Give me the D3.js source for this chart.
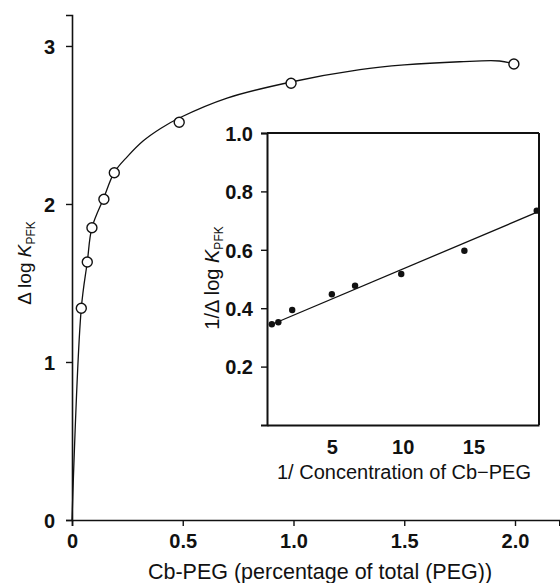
<!DOCTYPE html>
<html>
<head>
<meta charset="utf-8">
<script src="https://cdn.jsdelivr.net/npm/d3@7"></script>
<style>
  html, body { margin: 0; padding: 0; background: #fff; }
  svg { display: block; font-family: "Liberation Sans", Arial, Helvetica, sans-serif; }
</style>
</head>
<body>
<svg id="chart" width="560" height="583"></svg>
<script>
// ---- Main panel data ----
const pegPercent = [0.042, 0.069, 0.090, 0.144, 0.191, 0.484, 0.989, 1.995];
const deltaLogK  = [1.34, 1.633, 1.85, 2.03, 2.198, 2.517, 2.764, 2.886];
// drawn smooth curve
const curveX = [0, 0.042, 0.069, 0.090, 0.144, 0.191, 0.25, 0.322, 0.4, 0.484, 0.7, 0.989, 1.3, 1.5, 1.75, 1.93, 1.995];
const curveY = [0, 1.34, 1.633, 1.85, 2.04, 2.2, 2.30, 2.40, 2.478, 2.544, 2.67, 2.772, 2.85, 2.88, 2.90, 2.905, 2.886];
const mainXTicks = [0, 0.5, 1.0, 1.5, 2.0];
const mainXTickLabels = ["0", "0.5", "1.0", "1.5", "2.0"];
const mainYTicks = [0, 1, 2, 3];

// ---- Inset data (double reciprocal) ----
const invConc  = [0.76, 1.22, 2.2, 5.0, 6.64, 9.9, 14.36, 19.47];
const invDelta = [0.345, 0.352, 0.394, 0.448, 0.477, 0.517, 0.597, 0.734];
const lineIntercept = 0.329;
const lineSlope = 0.0205;
const lineXRange = [0.7, 19.5];
const insetXTicks = [5, 10, 15];
const insetYTicks = [0.2, 0.4, 0.6, 0.8, 1.0];

const svg = d3.select("#chart");
const ink = "#111";

// ---- Main scales ----
const x = d3.scaleLinear().domain([0, 2.2]).range([72, 72 + 2.2 * 221.5]);
const y = d3.scaleLinear().domain([0, 3.196]).range([520, 15]);

// axes
const xAxis = d3.axisBottom(x).tickValues(mainXTicks)
  .tickFormat((d, i) => mainXTickLabels[i]).tickSizeOuter(0).tickSize(6).tickPadding(8);
const gx = svg.append("g").attr("transform", `translate(0,${y(0)})`).call(xAxis);
const yAxis = d3.axisLeft(y).tickValues(mainYTicks).tickFormat(d3.format("d"))
  .tickSizeOuter(0).tickSize(6).tickPadding(11);
const gy = svg.append("g").attr("transform", `translate(${x(0)},0)`).call(yAxis);
[gx, gy].forEach(g => {
  g.select(".domain").attr("stroke", ink).attr("stroke-width", 1.6);
  g.selectAll(".tick line").attr("stroke", ink).attr("stroke-width", 1.4);
  g.selectAll(".tick text").attr("fill", ink).style("font-size", "20px").style("font-weight", "bold");
});
gx.selectAll(".tick text").attr("dy", "0.71em");
gy.selectAll(".tick text").attr("dy", "0.36em");

// main curve
const curveData = curveX.map((v, i) => [v, curveY[i]]);
svg.append("path")
  .datum(curveData)
  .attr("fill", "none").attr("stroke", ink).attr("stroke-width", 1.3)
  .attr("d", d3.line().x(d => x(d[0])).y(d => y(d[1])).curve(d3.curveCatmullRom.alpha(0.5)));

// main points
svg.append("g").selectAll("circle")
  .data(pegPercent.map((v, i) => [v, deltaLogK[i]]))
  .join("circle")
  .attr("cx", d => x(d[0])).attr("cy", d => y(d[1])).attr("r", 5)
  .attr("fill", "#fff").attr("stroke", ink).attr("stroke-width", 1.4);

// main axis titles
svg.append("text")
  .attr("x", 320).attr("y", 579).attr("text-anchor", "middle")
  .attr("fill", ink).style("font-size", "21.5px")
  .text("Cb-PEG (percentage of total (PEG))");

const yt = svg.append("text")
  .attr("transform", "translate(31,263) rotate(-90)")
  .attr("text-anchor", "middle").attr("fill", ink).style("font-size", "19px");
yt.append("tspan").text("\u0394 log ");
yt.append("tspan").style("font-style", "italic").text("K");
yt.append("tspan").attr("dy", 4).style("font-size", "12px").text("PFK");

// ---- Inset ----
const ix = d3.scaleLinear().domain([0.42, 19.63]).range([267, 539]);
const iy = d3.scaleLinear().domain([0, 1.0]).range([425, 133]);

// frame (top, right)
const frame = svg.append("g").attr("fill", "none").attr("stroke", ink).attr("stroke-width", 2);
frame.append("line").attr("x1", ix.range()[0]).attr("x2", ix.range()[1]).attr("y1", iy(1.0)).attr("y2", iy(1.0));
frame.append("line").attr("x1", ix.range()[1]).attr("x2", ix.range()[1]).attr("y1", iy(1.0)).attr("y2", iy(0));

const ixAxis = d3.axisBottom(ix).tickValues(insetXTicks).tickFormat(d3.format("d"))
  .tickSizeOuter(0).tickSize(0).tickPadding(15);
const gix = svg.append("g").attr("transform", `translate(0,${iy(0)})`).call(ixAxis);
const iyAxis = d3.axisLeft(iy).tickValues(insetYTicks).tickFormat(d3.format(".1f"))
  .tickSizeOuter(0).tickSize(6).tickPadding(8);
const giy = svg.append("g").attr("transform", `translate(${ix.range()[0]},0)`).call(iyAxis);
[gix, giy].forEach(g => {
  g.select(".domain").attr("stroke", ink).attr("stroke-width", 2);
  g.selectAll(".tick line").attr("stroke", ink).attr("stroke-width", 1.4);
  g.selectAll(".tick text").attr("fill", ink).style("font-size", "20px").style("font-weight", "bold");
});
gix.selectAll(".tick text").attr("dy", "0.71em");
giy.selectAll(".tick text").attr("dy", "0.36em");

// regression line
svg.append("path")
  .datum(lineXRange.map(v => [v, lineIntercept + lineSlope * v]))
  .attr("fill", "none").attr("stroke", ink).attr("stroke-width", 1.3)
  .attr("d", d3.line().x(d => ix(d[0])).y(d => iy(d[1])));

// inset points
svg.append("g").selectAll("circle")
  .data(invConc.map((v, i) => [v, invDelta[i]]))
  .join("circle")
  .attr("cx", d => ix(d[0])).attr("cy", d => iy(d[1])).attr("r", 3.2)
  .attr("fill", ink);

// inset titles
svg.append("text")
  .attr("x", 404).attr("y", 479).attr("text-anchor", "middle")
  .attr("fill", ink).style("font-size", "20px")
  .text("1/ Concentration of Cb\u2212PEG");

const iyt = svg.append("text")
  .attr("transform", "translate(219,278) rotate(-90)")
  .attr("text-anchor", "middle").attr("fill", ink).style("font-size", "20px");
iyt.append("tspan").text("1/\u0394 log ");
iyt.append("tspan").style("font-style", "italic").text("K");
iyt.append("tspan").attr("dy", 4).style("font-size", "12px").text("PFK");
</script>
</body>
</html>
